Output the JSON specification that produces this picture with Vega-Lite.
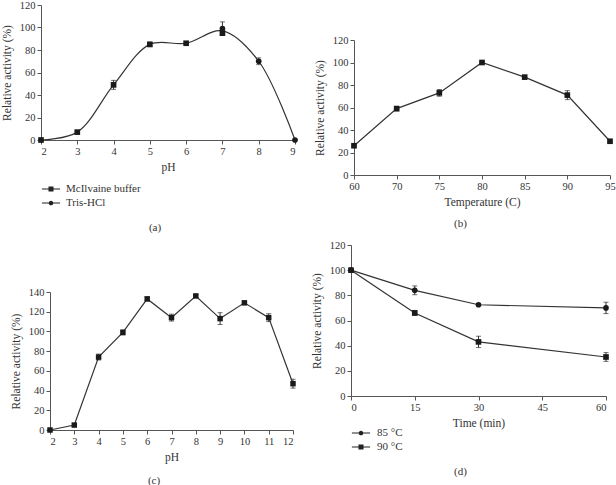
{
  "$schema": "https://vega.github.io/schema/vega-lite/v6.json",
  "padding": {"left": 1, "top": 0, "right": 0, "bottom": 0},
  "background": "white",
  "config": {
    "view": {"stroke": null},
    "font": "Liberation Serif",
    "axis": {
      "grid": false,
      "domainColor": "#555",
      "tickColor": "#555",
      "tickSize": 4,
      "labelPadding": 2,
      "labelFont": "Liberation Serif",
      "labelFontSize": 10.5,
      "labelColor": "#333",
      "titleFont": "Liberation Serif",
      "titleFontSize": 11.5,
      "titleFontWeight": "normal",
      "titleColor": "#333"
    },
    "axisX": {"labelAngle": 0, "titlePadding": 5},
    "axisY": {"titlePadding": 7},
    "title": {"font": "Liberation Serif", "fontSize": 11, "fontWeight": "normal", "color": "#333"},
    "legend": {
      "labelFont": "Liberation Serif",
      "labelFontSize": 11,
      "labelColor": "#333"
    }
  },
  "datasets": {
    "a": [
      {"pH": 2, "v": 0, "e": 0, "buffer": "McIlvaine buffer"},
      {"pH": 3, "v": 7, "e": 1, "buffer": "McIlvaine buffer"},
      {"pH": 4, "v": 49, "e": 4, "buffer": "McIlvaine buffer"},
      {"pH": 5, "v": 85, "e": 2, "buffer": "McIlvaine buffer"},
      {"pH": 6, "v": 86, "e": 1, "buffer": "McIlvaine buffer"},
      {"pH": 7, "v": 95, "e": 2, "buffer": "McIlvaine buffer"},
      {"pH": 7, "v": 99, "e": 6, "buffer": "Tris-HCl"},
      {"pH": 8, "v": 70, "e": 3, "buffer": "Tris-HCl"},
      {"pH": 9, "v": 0, "e": 0, "buffer": "Tris-HCl"}
    ],
    "b": [
      {"t": 60, "v": 26, "e": 1},
      {"t": 70, "v": 59, "e": 2},
      {"t": 75, "v": 73, "e": 3},
      {"t": 80, "v": 100, "e": 1},
      {"t": 85, "v": 87, "e": 1},
      {"t": 90, "v": 71, "e": 4},
      {"t": 95, "v": 30, "e": 1}
    ],
    "c": [
      {"pH": 2, "v": 0, "e": 0},
      {"pH": 3, "v": 5, "e": 1.5},
      {"pH": 4, "v": 74, "e": 3},
      {"pH": 5, "v": 99, "e": 2.5},
      {"pH": 6, "v": 133, "e": 2},
      {"pH": 7, "v": 114, "e": 3.5},
      {"pH": 8, "v": 136, "e": 1.5},
      {"pH": 9, "v": 113, "e": 6},
      {"pH": 10, "v": 129, "e": 1.5},
      {"pH": 11, "v": 114, "e": 4},
      {"pH": 12, "v": 47, "e": 4.5}
    ],
    "d": [
      {"time": 0, "v": 100, "e": 0, "temp": "85 °C"},
      {"time": 15, "v": 84, "e": 3.5, "temp": "85 °C"},
      {"time": 30, "v": 72.5, "e": 1, "temp": "85 °C"},
      {"time": 60, "v": 70, "e": 4.5, "temp": "85 °C"},
      {"time": 0, "v": 100, "e": 0, "temp": "90 °C"},
      {"time": 15, "v": 66, "e": 2, "temp": "90 °C"},
      {"time": 30, "v": 43, "e": 4.5, "temp": "90 °C"},
      {"time": 60, "v": 31, "e": 3.5, "temp": "90 °C"}
    ]
  },
  "columns": 2,
  "spacing": {"row": 70, "column": 56},
  "bounds": "flush",
  "resolve": {"scale": {"shape": "independent"}, "legend": {"shape": "independent"}},
  "concat": [
    {
      "width": 254,
      "height": 135,
      "data": {"name": "a"},
      "title": {"text": "(a)", "orient": "bottom", "offset": 13, "dx": -13},
      "encoding": {
        "x": {"field": "pH", "type": "quantitative", "scale": {"domain": [2, 9]}, "axis": {"title": "pH", "values": [2, 3, 4, 5, 6, 7, 8, 9]}},
        "y": {"field": "v", "type": "quantitative", "scale": {"domain": [0, 120]}, "axis": {"title": "Relative activity (%)", "values": [0, 20, 40, 60, 80, 100, 120]}}
      },
      "resolve": {"scale": {"shape": "independent"}, "legend": {"shape": "independent"}},
      "layer": [
        {
          "mark": {"type": "line", "interpolate": "catmull-rom", "color": "#333", "strokeWidth": 1.2},
          "encoding": {
            "y": {"aggregate": "mean", "field": "v", "type": "quantitative", "title": "Relative activity (%)"}
          }
        },
        {
          "mark": {"type": "errorbar", "color": "#333", "ticks": {"size": 5, "color": "#333"}},
          "encoding": {"yError": {"field": "e"}}
        },
        {
          "mark": {"type": "point", "filled": true, "opacity": 1, "color": "#1a1a1a", "size": 32},
          "encoding": {
            "shape": {
              "field": "buffer", "type": "nominal",
              "scale": {"domain": ["McIlvaine buffer", "Tris-HCl"], "range": ["square", "circle"]},
              "legend": null
            }
          }
        },
        {
          "mark": {"type": "point", "filled": true, "color": "#222", "size": 0},
          "encoding": {
            "shape": {
              "field": "buffer", "type": "nominal",
              "scale": {"domain": ["McIlvaine buffer", "Tris-HCl"], "range": ["M-1.3,-0.08H1.3V0.08H-1.3ZM-0.36,-0.36H0.36V0.36H-0.36Z", "M-1.3,-0.08H1.3V0.08H-1.3ZM0.33,0A0.33,0.33,0,1,1,-0.33,0A0.33,0.33,0,1,1,0.33,0Z"]},
              "legend": {
                "orient": "none", "legendX": 2, "legendY": 176, "title": null,
                "symbolSize": 196, "symbolFillColor": "#222", "symbolOpacity": 1,
                "rowPadding": 0, "labelOffset": 7
              }
            }
          }
        }
      ]
    },
    {
      "width": 259,
      "height": 170,
      "data": {"name": "b"},
      "title": {"text": "(b)", "orient": "bottom", "offset": 10, "dx": -20},
      "encoding": {
        "x": {"field": "t", "type": "ordinal", "scale": {"type": "point", "padding": 0, "range": [3, 259]}, "axis": {"title": "Temperature (C)"}},
        "y": {"field": "v", "type": "quantitative", "scale": {"domain": [0, 120], "range": [170, 35]}, "axis": {"title": "Relative activity (%)", "offset": -3, "values": [0, 20, 40, 60, 80, 100, 120]}}
      },
      "layer": [
        {"mark": {"type": "line", "color": "#333", "strokeWidth": 1.2}},
        {
          "mark": {"type": "errorbar", "color": "#333", "ticks": {"size": 5, "color": "#333"}},
          "encoding": {"yError": {"field": "e"}}
        },
        {"mark": {"type": "point", "filled": true, "opacity": 1, "color": "#1a1a1a", "shape": "square", "size": 32}}
      ]
    },
    {
      "width": 252,
      "height": 185,
      "data": {"name": "c"},
      "title": {"text": "(c)", "orient": "bottom", "offset": 12, "dx": -13},
      "encoding": {
        "x": {"field": "pH", "type": "quantitative", "scale": {"domain": [2, 12], "range": [9, 252]}, "axis": {"title": "pH", "values": [2, 3, 4, 5, 6, 7, 8, 9, 10, 11, 12]}},
        "y": {"field": "v", "type": "quantitative", "scale": {"domain": [0, 140], "range": [185, 47]}, "axis": {"title": "Relative activity (%)", "offset": -9, "values": [0, 20, 40, 60, 80, 100, 120, 140]}}
      },
      "layer": [
        {"mark": {"type": "line", "color": "#333", "strokeWidth": 1.2}},
        {
          "mark": {"type": "errorbar", "color": "#333", "ticks": {"size": 5, "color": "#333"}},
          "encoding": {"yError": {"field": "e"}}
        },
        {"mark": {"type": "point", "filled": true, "opacity": 1, "color": "#1a1a1a", "shape": "square", "size": 30}}
      ]
    },
    {
      "width": 255,
      "height": 151,
      "data": {"name": "d"},
      "title": {"text": "(d)", "orient": "bottom", "offset": 13, "dx": -18},
      "encoding": {
        "x": {"field": "time", "type": "quantitative", "scale": {"domain": [0, 60]}, "axis": {"title": "Time (min)", "values": [0, 15, 30, 45, 60]}},
        "y": {"field": "v", "type": "quantitative", "scale": {"domain": [0, 120]}, "axis": {"title": "Relative activity (%)", "values": [0, 20, 40, 60, 80, 100, 120]}}
      },
      "resolve": {"scale": {"shape": "independent"}, "legend": {"shape": "independent"}},
      "layer": [
        {"mark": {"type": "line", "color": "#333", "strokeWidth": 1.2}, "encoding": {"detail": {"field": "temp"}}},
        {
          "mark": {"type": "errorbar", "color": "#333", "ticks": {"size": 5, "color": "#333"}},
          "encoding": {"yError": {"field": "e"}, "detail": {"field": "temp"}}
        },
        {
          "mark": {"type": "point", "filled": true, "opacity": 1, "color": "#1a1a1a", "size": 32},
          "encoding": {
            "shape": {
              "field": "temp", "type": "nominal",
              "scale": {"domain": ["85 °C", "90 °C"], "range": ["circle", "square"]},
              "legend": null
            }
          }
        },
        {
          "mark": {"type": "point", "filled": true, "color": "#222", "size": 0},
          "encoding": {
            "shape": {
              "field": "temp", "type": "nominal",
              "scale": {"domain": ["85 °C", "90 °C"], "range": ["M-1.3,-0.08H1.3V0.08H-1.3ZM0.33,0A0.33,0.33,0,1,1,-0.33,0A0.33,0.33,0,1,1,0.33,0Z", "M-1.3,-0.08H1.3V0.08H-1.3ZM-0.36,-0.36H0.36V0.36H-0.36Z"]},
              "legend": {
                "orient": "none", "legendX": 2, "legendY": 180, "title": null,
                "symbolSize": 196, "symbolFillColor": "#222", "symbolOpacity": 1,
                "rowPadding": 0, "labelOffset": 8
              }
            }
          }
        }
      ]
    }
  ]
}
